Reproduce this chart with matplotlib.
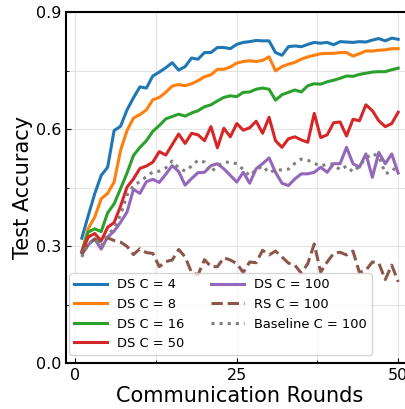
import matplotlib
matplotlib.use('Agg')
import matplotlib.pyplot as plt
from matplotlib.ticker import MultipleLocator

# communication rounds
rounds = list(range(1, 51))

# test accuracy per round
ds_c4 = [0.320, 0.378, 0.434, 0.481, 0.502, 0.596, 0.607, 0.649, 0.680, 0.708,
         0.705, 0.736, 0.746, 0.757, 0.770, 0.751, 0.760, 0.782, 0.779, 0.796,
         0.796, 0.809, 0.809, 0.806, 0.817, 0.822, 0.824, 0.827, 0.826, 0.826,
         0.796, 0.789, 0.811, 0.813, 0.811, 0.817, 0.822, 0.820, 0.822, 0.816,
         0.824, 0.823, 0.822, 0.824, 0.823, 0.828, 0.832, 0.826, 0.833, 0.830]
ds_c8 = [0.285, 0.345, 0.374, 0.421, 0.435, 0.464, 0.545, 0.596, 0.628, 0.637,
         0.649, 0.675, 0.681, 0.694, 0.710, 0.714, 0.711, 0.716, 0.724, 0.734,
         0.739, 0.753, 0.753, 0.759, 0.769, 0.773, 0.775, 0.773, 0.776, 0.785,
         0.749, 0.760, 0.766, 0.771, 0.779, 0.785, 0.789, 0.793, 0.794, 0.794,
         0.796, 0.796, 0.787, 0.793, 0.800, 0.800, 0.802, 0.803, 0.806, 0.806]
ds_c16 = [0.285, 0.336, 0.344, 0.337, 0.385, 0.408, 0.447, 0.487, 0.532, 0.553,
          0.570, 0.594, 0.609, 0.626, 0.632, 0.638, 0.633, 0.641, 0.647, 0.657,
          0.662, 0.672, 0.681, 0.685, 0.683, 0.694, 0.695, 0.702, 0.705, 0.702,
          0.674, 0.688, 0.694, 0.700, 0.695, 0.711, 0.716, 0.715, 0.721, 0.725,
          0.730, 0.736, 0.735, 0.740, 0.743, 0.746, 0.747, 0.747, 0.752, 0.756]
ds_c50 = [0.285, 0.323, 0.332, 0.313, 0.348, 0.360, 0.402, 0.451, 0.472, 0.499,
          0.505, 0.515, 0.542, 0.533, 0.560, 0.587, 0.563, 0.589, 0.585, 0.570,
          0.606, 0.552, 0.602, 0.580, 0.614, 0.597, 0.603, 0.620, 0.589, 0.630,
          0.570, 0.553, 0.575, 0.580, 0.572, 0.566, 0.640, 0.578, 0.585, 0.616,
          0.618, 0.582, 0.625, 0.621, 0.662, 0.647, 0.621, 0.606, 0.614, 0.643]
ds_c100 = [0.282, 0.303, 0.318, 0.292, 0.323, 0.338, 0.361, 0.387, 0.445, 0.435,
           0.465, 0.471, 0.463, 0.484, 0.506, 0.491, 0.456, 0.473, 0.488, 0.489,
           0.506, 0.511, 0.498, 0.481, 0.464, 0.489, 0.461, 0.498, 0.511, 0.526,
           0.489, 0.461, 0.455, 0.472, 0.485, 0.485, 0.489, 0.502, 0.489, 0.511,
           0.511, 0.553, 0.511, 0.502, 0.536, 0.476, 0.540, 0.511, 0.536, 0.487]
rs_c100 = [0.278, 0.305, 0.318, 0.310, 0.321, 0.314, 0.310, 0.299, 0.278, 0.293,
           0.283, 0.281, 0.247, 0.260, 0.264, 0.291, 0.272, 0.232, 0.226, 0.265,
           0.247, 0.247, 0.270, 0.264, 0.255, 0.232, 0.259, 0.257, 0.289, 0.277,
           0.287, 0.272, 0.256, 0.251, 0.230, 0.255, 0.305, 0.233, 0.259, 0.281,
           0.284, 0.277, 0.287, 0.232, 0.238, 0.259, 0.256, 0.214, 0.251, 0.208]
baseline_c100 = [0.272, 0.305, 0.318, 0.300, 0.328, 0.345, 0.380, 0.430, 0.455, 0.465,
                 0.478, 0.490, 0.492, 0.500, 0.518, 0.500, 0.492, 0.505, 0.520, 0.515,
                 0.490, 0.505, 0.515, 0.515, 0.511, 0.496, 0.480, 0.496, 0.505, 0.488,
                 0.495, 0.495, 0.497, 0.512, 0.523, 0.520, 0.512, 0.505, 0.510, 0.510,
                 0.495, 0.505, 0.490, 0.505, 0.525, 0.537, 0.530, 0.486, 0.490, 0.510]

fig = plt.figure(figsize=(4.06, 4.09), dpi=100)
# axes runs a bit past the right edge of the figure, like the reference crop
ax = fig.add_axes([66 / 406, 46 / 409, 348 / 406, 351 / 409])

ax.plot(rounds, ds_c4, color='tab:blue', lw=2.2, label='DS C = 4')
ax.plot(rounds, ds_c8, color='tab:orange', lw=2.2, label='DS C = 8')
ax.plot(rounds, ds_c16, color='tab:green', lw=2.2, label='DS C = 16')
ax.plot(rounds, ds_c50, color='tab:red', lw=2.2, label='DS C = 50')
ax.plot(rounds, ds_c100, color='tab:purple', lw=2.2, label='DS C = 100')
ax.plot(rounds, rs_c100, color='tab:brown', lw=2.2, ls='--', label='RS C = 100')
ax.plot(rounds, baseline_c100, color='tab:gray', lw=2.2, ls=':', label='Baseline C = 100')

ax.set_ylim(0, 0.9)
ax.set_xticks([0, 25, 50])
ax.set_yticks([0.0, 0.3, 0.6, 0.9])
ax.xaxis.set_minor_locator(MultipleLocator(12.5))
ax.yaxis.set_minor_locator(MultipleLocator(0.15))
ax.tick_params(which='both', direction='in', labelsize=11.5)
ax.grid(True, which='both', color='#e3e3e3', lw=0.8)
ax.set_axisbelow(True)
for s in ax.spines.values():
    s.set_linewidth(1.5)

ax.set_xlabel('Communication Rounds', fontsize=15, labelpad=2)
ax.set_ylabel('Test Accuracy', fontsize=15, labelpad=2)

ax.legend(ncol=2, fontsize=9.4, loc='lower left', bbox_to_anchor=(0.009, 0.022),
          borderaxespad=0, handlelength=2.5)

fig.savefig('out.png', dpi=100)
